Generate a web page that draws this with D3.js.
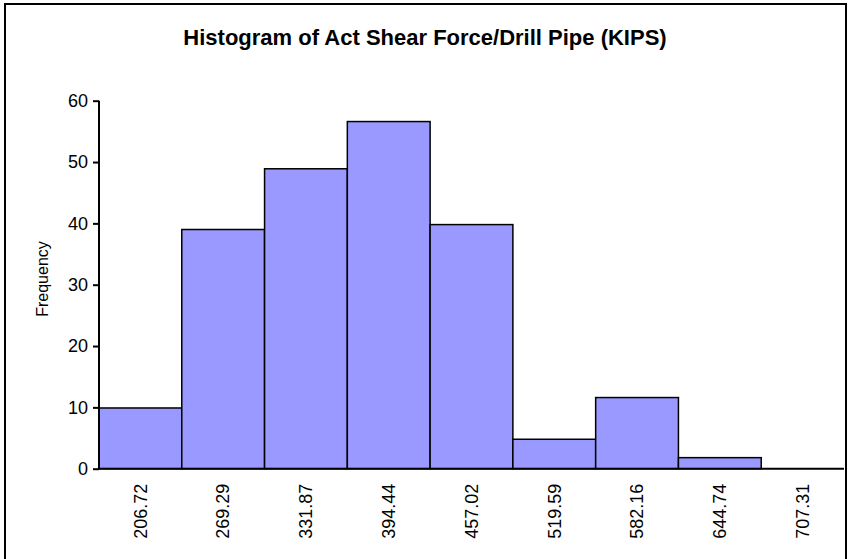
<!DOCTYPE html>
<head>
    <meta charset="utf-8">
    <title>histogram</title>
    <script src="https://d3js.org/d3.v7.min.js"></script>
    <style>
        body { margin: 0; background: #fff; }
        text { font-family: Arial, "Liberation Sans", sans-serif; fill: #000; }
    </style>
</head>

<body>
    <svg id="chart"></svg>
    <script>
        var svgWidth = 850;
        var svgHeight = 559;

        // bin labels and counts
        var bins = ["206.72", "269.29", "331.87", "394.44", "457.02", "519.59", "582.16", "644.74", "707.31"];
        var counts = [9.9, 39, 48.9, 56.6, 39.8, 4.8, 11.6, 1.8, 0];
        var yTicks = [0, 10, 20, 30, 40, 50, 60];

        var svg = d3.select("#chart")
            .attr("width", svgWidth)
            .attr("height", svgHeight);

        // outer frame
        svg.append("rect")
            .attr("x", 5).attr("y", 4)
            .attr("width", 841).attr("height", 570)
            .attr("fill", "none")
            .attr("stroke", "#000")
            .attr("stroke-width", 2);

        var plotLeft = 99, plotRight = 844, plotTop = 100.7, plotBottom = 468.7;

        var x = d3.scaleBand().domain(bins).range([plotLeft, plotRight]).padding(0);
        var y = d3.scaleLinear().domain([0, 60]).range([plotBottom, plotTop]);

        svg.append("text")
            .attr("x", 425).attr("y", 45)
            .attr("text-anchor", "middle")
            .style("font-weight", "bold")
            .style("font-size", "22px")
            .text("Histogram of Act Shear Force/Drill Pipe (KIPS)");

        // bars
        svg.selectAll("rect.bar")
            .data(counts)
            .enter()
            .append("rect")
            .attr("class", "bar")
            .attr("x", function (d, i) { return x(bins[i]); })
            .attr("width", x.bandwidth())
            .attr("y", function (d) { return y(d); })
            .attr("height", function (d) { return plotBottom - y(d); })
            .attr("fill", function (d) { return d > 0 ? "#9999FF" : "none"; })
            .attr("stroke", function (d) { return d > 0 ? "#000" : "none"; })
            .attr("stroke-width", 1.5);

        // y axis
        var yAxis = d3.axisLeft(y).tickValues(yTicks).tickSize(6).tickPadding(5);
        var gy = svg.append("g").attr("transform", "translate(" + plotLeft + ",0)").call(yAxis);
        gy.select(".domain").attr("stroke-width", 2).attr("d", "M0," + plotBottom + "V" + plotTop);
        gy.selectAll(".tick line").attr("stroke-width", 2);
        gy.selectAll("text").style("font-size", "18px").style("font-family", "Arial, 'Liberation Sans', sans-serif");

        // x axis
        var xAxis = d3.axisBottom(x).tickSize(0).tickPadding(0);
        var gx = svg.append("g").attr("transform", "translate(0," + plotBottom + ")").call(xAxis);
        gx.select(".domain").attr("stroke-width", 2).attr("d", "M" + plotLeft + ",0H" + plotRight);
        gx.selectAll("text")
            .style("font-size", "18px")
            .style("font-family", "Arial, 'Liberation Sans', sans-serif")
            .attr("text-anchor", "end")
            .attr("transform", "translate(0,15) rotate(-90)")
            .attr("x", 0).attr("y", 0)
            .attr("dy", "0.35em");

        svg.append("text")
            .attr("transform", "translate(42,279) rotate(-90)")
            .attr("text-anchor", "middle")
            .attr("dy", "0.35em")
            .style("font-size", "16px")
            .text("Frequency");
    </script>
</body>
